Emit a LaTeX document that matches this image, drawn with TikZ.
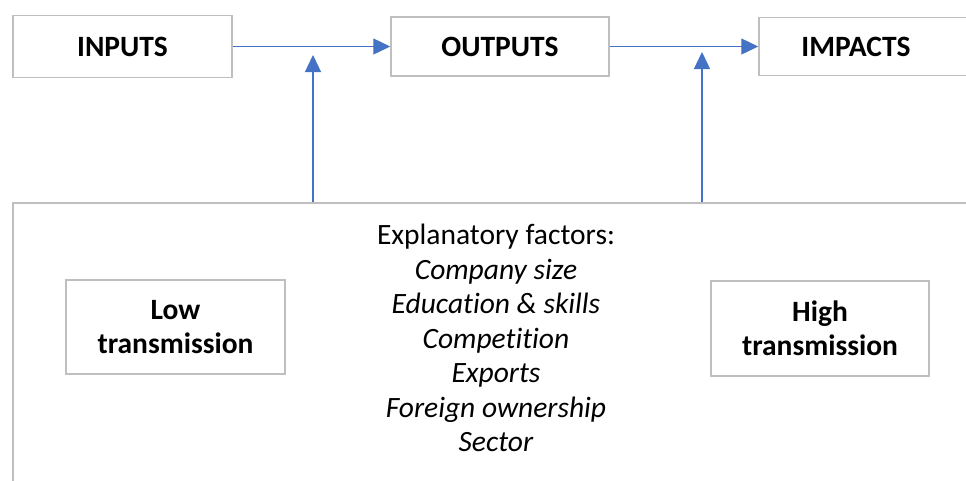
\documentclass[tikz,border=0pt]{standalone}
\usepackage{fontspec}
\setmainfont[RawFeature=-liga]{Carlito}
\usetikzlibrary{arrows.meta}
\definecolor{boxgray}{RGB}{191,191,191}
\definecolor{flowblue}{RGB}{68,114,196}
\tikzset{
  stagebox/.style={draw=boxgray, line width=1.5pt, fill=white, inner sep=0pt,
    font=\fontsize{29.5}{34.5}\selectfont\bfseries, align=center},
  flow/.style={draw=flowblue, line width=1.3pt,
    -{Triangle[length=17pt, width=16pt]}},
}
\begin{document}
\begin{tikzpicture}[x=1pt, y=-1pt]
  \clip (0,0) rectangle (966,480);
  \fill[white] (0,0) rectangle (966,480);

  % panel holding the explanatory factors (runs off the right and bottom edges)
  \node[stagebox, minimum width=967pt, minimum height=340pt] (panel) at (496.5,373) {};

  % top row of stages
  \node[stagebox, minimum width=219pt, minimum height=62pt] (inputs) at (122.5,46.5) {INPUTS};
  \node[stagebox, minimum width=218pt, minimum height=59pt] (outputs) at (500,46.5) {OUTPUTS};
  \node[stagebox, minimum width=219pt, minimum height=58pt] (impacts) at (868.5,46.5) {};
  \node[font=\fontsize{29.5}{34.5}\selectfont\bfseries] (impactslabel) at (856,46.5) {IMPACTS};

  % transmission boxes
  \node[stagebox, minimum width=219pt, minimum height=94pt] (low) at (175.5,327)
    {Low\\transmission};
  \node[stagebox, minimum width=218pt, minimum height=95pt] (high) at (820,328.5)
    {High\\transmission};

  % list of explanatory factors
  \node[align=center, font=\fontsize{29.5}{34.5}\selectfont] (factors) at (496,338)
    {Explanatory factors:\\
     \textit{Company size}\\
     \textit{Education \& skills}\\
     \textit{Competition}\\
     \textit{Exports}\\
     \textit{Foreign ownership}\\
     \textit{Sector}};

  % horizontal flows
  \draw[flow] (inputs.east) -- (outputs.west);
  \draw[flow] (outputs.east) -- (impacts.west);

  % vertical influences from the panel onto the flows
  \coordinate (tipA) at (313,55);
  \coordinate (tipB) at (702,52);
  \draw[flow] (panel.north -| tipA) -- (tipA);
  \draw[flow] (panel.north -| tipB) -- (tipB);
\end{tikzpicture}
\end{document}
